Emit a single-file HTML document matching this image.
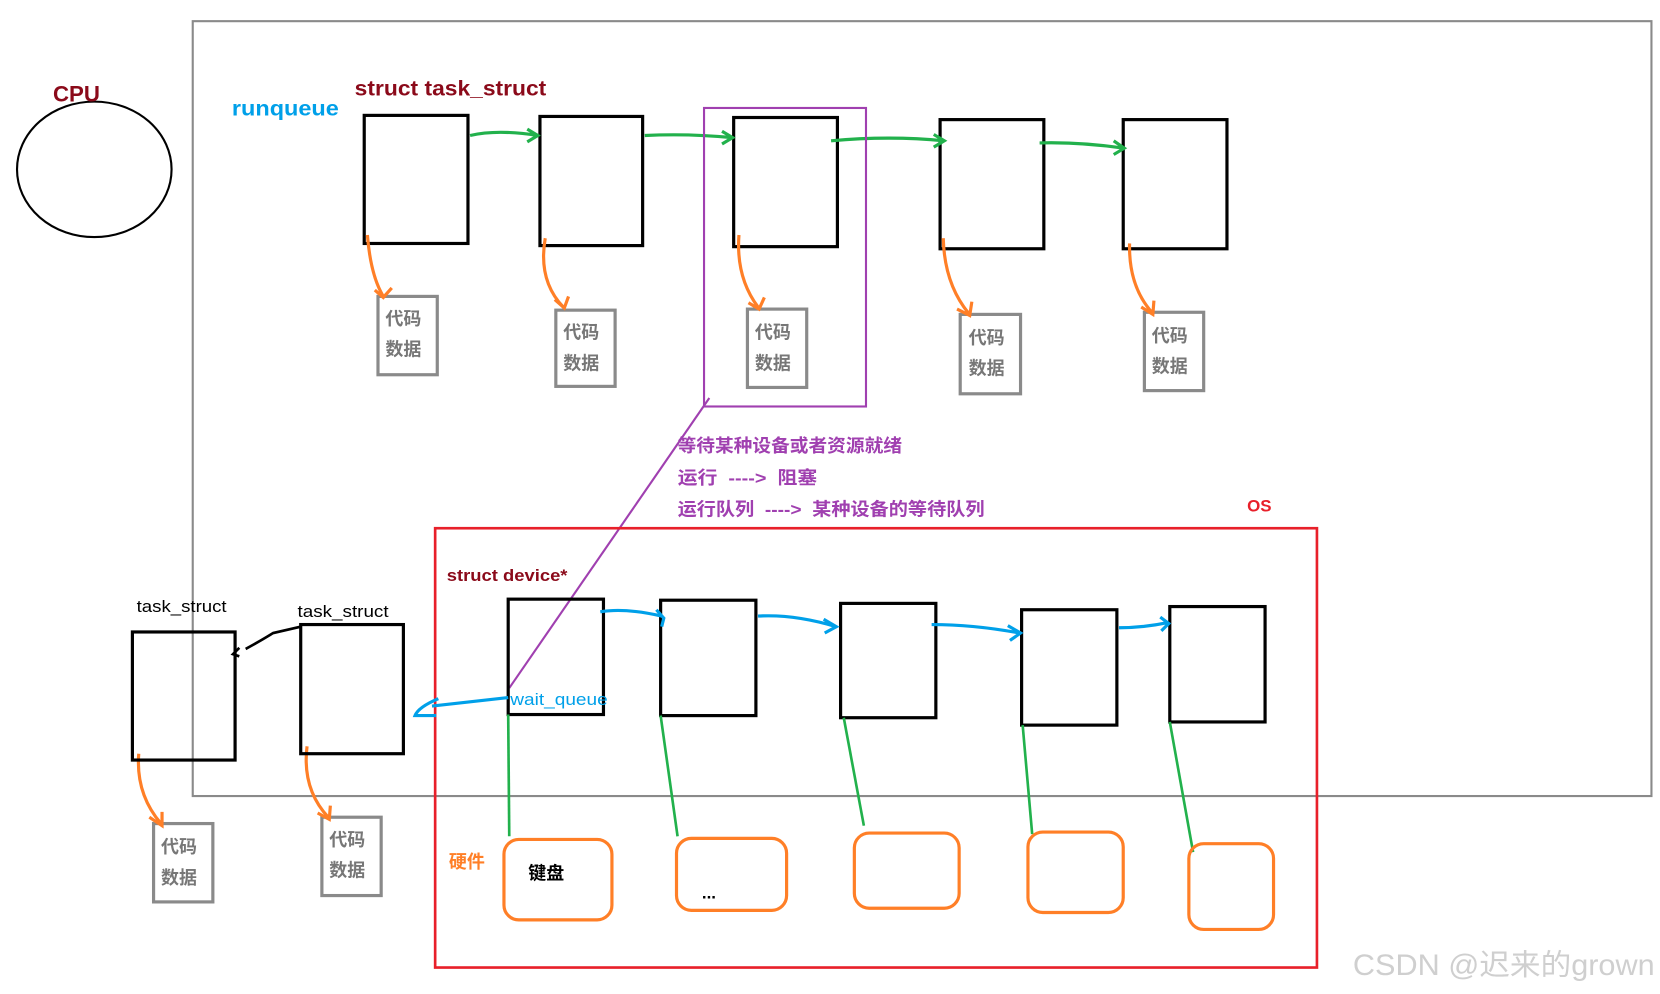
<!DOCTYPE html>
<html><head><meta charset="utf-8"><style>
html,body{margin:0;padding:0;background:#fff;}
svg{display:block;}
text{font-family:"Liberation Sans","Noto Sans CJK SC",sans-serif;}
</style></head><body>
<svg width="1660" height="994" viewBox="0 0 1568 939" xmlns="http://www.w3.org/2000/svg">
<rect x="0" y="0" width="1568" height="939" fill="#fff"/>
<rect x="182" y="20" width="1378" height="732" fill="none" stroke="#8a8a8a" stroke-width="2"/>
<ellipse cx="89" cy="160" rx="73" ry="64" fill="none" stroke="#000" stroke-width="2"/>
<text x="50" y="96" font-size="21" font-weight="bold" fill="#8b0a1a">CPU</text>
<text x="219" y="109" font-size="20" font-weight="bold" fill="#00a0e9" textLength="101" lengthAdjust="spacingAndGlyphs">runqueue</text>
<text x="335" y="90" font-size="20" font-weight="bold" fill="#8b0a1a" textLength="181" lengthAdjust="spacingAndGlyphs">struct task_struct</text>
<g fill="none" stroke="#000" stroke-width="3">
<rect x="344" y="109" width="98" height="121"/>
<rect x="510" y="110" width="97" height="122"/>
<rect x="693" y="111" width="98" height="122"/>
<rect x="888" y="113" width="98" height="122"/>
<rect x="1061" y="113" width="98" height="122"/>
</g>
<g fill="none" stroke="#22b14c" stroke-width="3">
<path d="M444 128 Q470 122 508 128 M498 122 L508 128 L498 134"/>
<path d="M609 128 Q650 126 692 130 M682 124 L692 130 L682 136"/>
<path d="M785 133 Q840 128 892 133 M882 127 L892 133 L882 139"/>
<path d="M982 135 Q1020 134 1062 140 M1052 133 L1062 140 L1052 146"/>
</g>
<rect x="665" y="102" width="153" height="282" fill="none" stroke="#a040b0" stroke-width="2"/>
<line x1="670" y1="376" x2="481" y2="650" stroke="#a040b0" stroke-width="2"/>
<g fill="none" stroke="#8a8a8a" stroke-width="3">
<rect x="357" y="280" width="56" height="74"/>
<rect x="525" y="293" width="56" height="72"/>
<rect x="706" y="292" width="56" height="74"/>
<rect x="907" y="297" width="57" height="75"/>
<rect x="1081" y="295" width="56" height="74"/>
<rect x="145" y="778" width="56" height="74"/>
<rect x="304" y="772" width="56" height="74"/>
</g>
<g font-size="17" font-weight="bold" fill="#777">
<text x="364" y="307">代码</text><text x="364" y="336">数据</text>
<text x="532" y="320">代码</text><text x="532" y="349">数据</text>
<text x="713" y="320">代码</text><text x="713" y="349">数据</text>
<text x="915" y="325">代码</text><text x="915" y="354">数据</text>
<text x="1088" y="323">代码</text><text x="1088" y="352">数据</text>
<text x="152" y="806">代码</text><text x="152" y="835">数据</text>
<text x="311" y="799">代码</text><text x="311" y="828">数据</text>
</g>
<g fill="none" stroke="#ff7f27" stroke-width="3">
<path d="M347 222 Q350 260 362 280 M354 274 L362 281 L370 272"/>
<path d="M515 225 Q508 265 532 290 M524 283 L533 291 L537 280"/>
<path d="M698 222 Q695 262 716 290 M707 286 L717 292 L722 281"/>
<path d="M891 225 Q892 268 915 296 M904 292 L916 298 L918 285"/>
<path d="M1067 230 Q1066 270 1088 295 M1078 290 L1089 297 L1090 284"/>
<path d="M131 712 Q128 750 152 778 M141 772 L153 780 L153 767"/>
<path d="M290 705 Q285 745 310 772 M300 768 L311 774 L312 761"/>
</g>
<g font-size="17" font-weight="bold" fill="#a040b0">
<text x="640" y="427" textLength="212" lengthAdjust="spacingAndGlyphs">等待某种设备或者资源就绪</text>
<text x="640" y="457" textLength="132" lengthAdjust="spacingAndGlyphs">运行 &#160;----&gt; &#160;阻塞</text>
<text x="640" y="487" textLength="290" lengthAdjust="spacingAndGlyphs">运行队列 &#160;----&gt; &#160;某种设备的等待队列</text>
</g>
<text x="1178" y="483" font-size="16" font-weight="bold" fill="#e8202a">OS</text>
<rect x="411" y="499" width="833" height="415" fill="none" stroke="#e8202a" stroke-width="2.5"/>
<text x="422" y="549" font-size="16" font-weight="bold" fill="#8b0a1a" textLength="114" lengthAdjust="spacingAndGlyphs">struct device*</text>
<g fill="none" stroke="#000" stroke-width="3">
<rect x="480" y="566" width="90" height="109"/>
<rect x="624" y="567" width="90" height="109"/>
<rect x="794" y="570" width="90" height="108"/>
<rect x="965" y="576" width="90" height="109"/>
<rect x="1105" y="573" width="90" height="109"/>
<rect x="125" y="597" width="97" height="121"/>
<rect x="284" y="590" width="97" height="122"/>
</g>
<text x="129" y="578" font-size="16" fill="#000" textLength="85" lengthAdjust="spacingAndGlyphs">task_struct</text>
<text x="281" y="583" font-size="16" fill="#000" textLength="86" lengthAdjust="spacingAndGlyphs">task_struct</text>
<path d="M226 612 L220 618 L226 620 M232 613 Q245 606 258 598 L284 592" fill="none" stroke="#000" stroke-width="2.5"/>
<g fill="none" stroke="#00a0e9" stroke-width="3">
<path d="M567 578 Q590 574 625 582 M620 576 L627 584 L625 592"/>
<path d="M716 582 Q750 580 790 592 M778 585 L790 592 L779 598"/>
<path d="M880 590 Q920 590 963 598 M952 591 L964 598 L954 605"/>
<path d="M1057 593 Q1080 593 1104 588 M1096 583 L1104 589 L1097 596"/>
<path d="M480 659 L408 667 M414 660 Q395 668 392 676 Q400 676 412 676"/>
</g>
<text x="482" y="666" font-size="16" fill="#00a0e9" textLength="92" lengthAdjust="spacingAndGlyphs">wait_queue</text>
<g stroke="#22b14c" stroke-width="2.5" fill="none">
<line x1="480" y1="675" x2="481" y2="790"/>
<line x1="624" y1="676" x2="640" y2="790"/>
<line x1="797" y1="678" x2="816" y2="780"/>
<line x1="966" y1="685" x2="975" y2="788"/>
<line x1="1105" y1="682" x2="1127" y2="805"/>
</g>
<text x="424" y="820" font-size="17" font-weight="bold" fill="#ff7f27">硬件</text>
<g fill="none" stroke="#ff7f27" stroke-width="3">
<rect x="476" y="793" width="102" height="76" rx="14"/>
<rect x="639" y="792" width="104" height="68" rx="14"/>
<rect x="807" y="787" width="99" height="71" rx="14"/>
<rect x="971" y="786" width="90" height="76" rx="14"/>
<rect x="1123" y="797" width="80" height="81" rx="14"/>
</g>
<text x="499" y="831" font-size="17" font-weight="bold" fill="#000">键盘</text>
<text x="663" y="849" font-size="16" font-weight="bold" fill="#000">...</text>
<text x="1278" y="921" font-size="28" fill="#cfcfcf" textLength="285" lengthAdjust="spacingAndGlyphs">CSDN @迟来的grown</text>
</svg>
</body></html>
